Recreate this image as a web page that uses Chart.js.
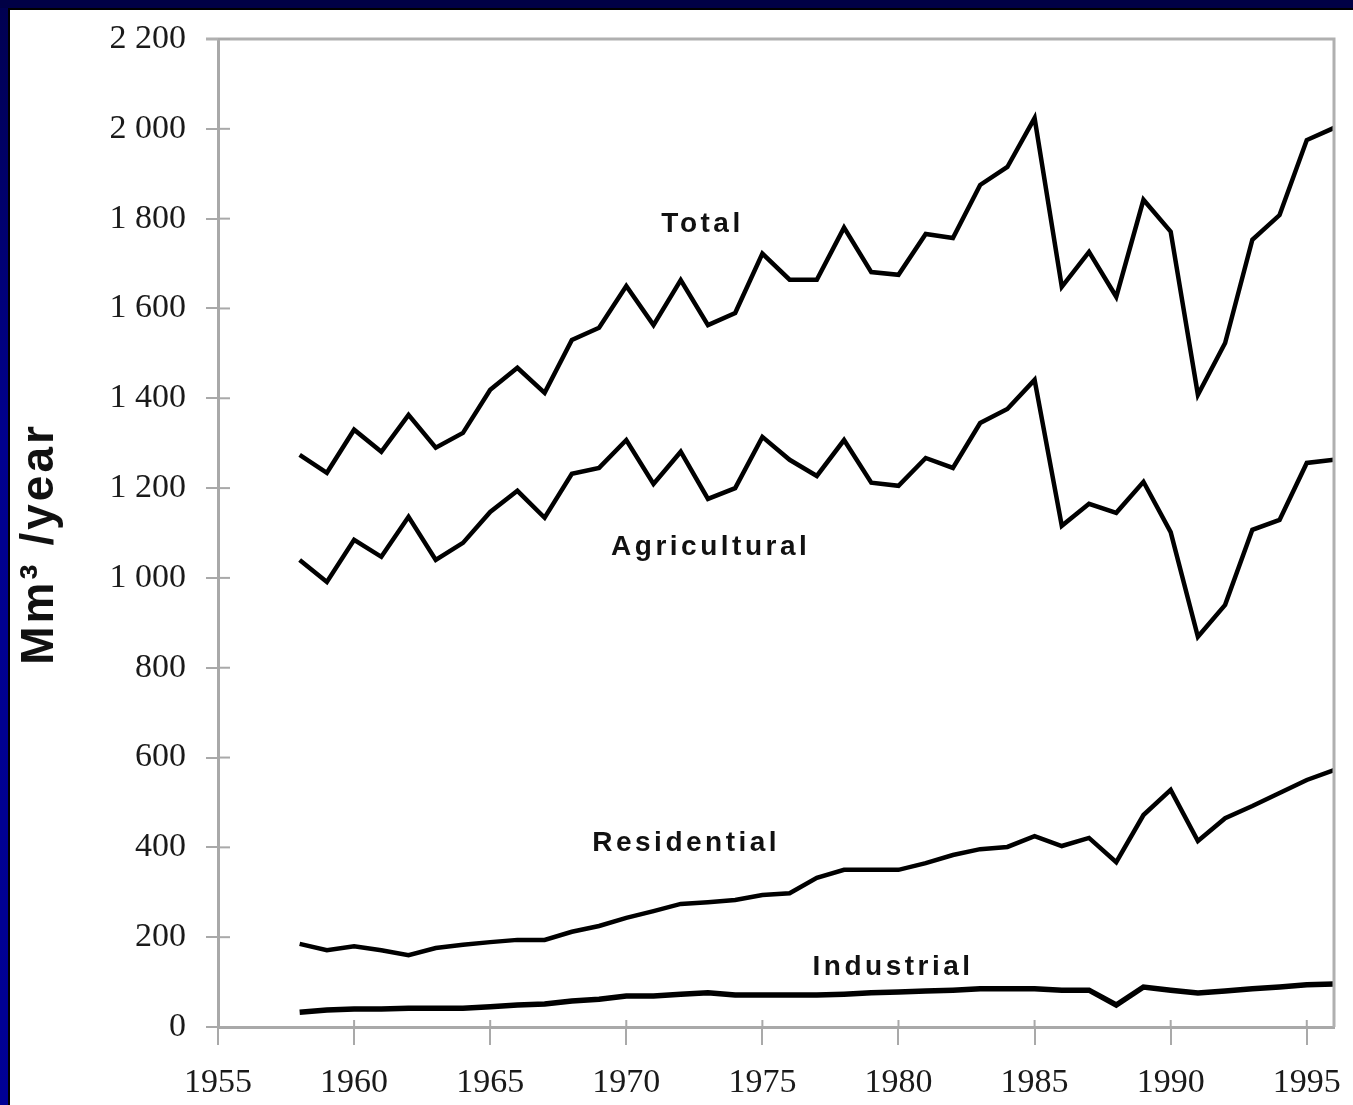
<!DOCTYPE html>
<html lang="en">
  <head>
    <meta charset="UTF-8" />
    <title>Water use, Mm3/year</title>
    <script src="https://cdn.jsdelivr.net/npm/chart.js"></script>
    <style>
      html, body { margin: 0; padding: 0; background: #000045; }
      #frame {
        position: absolute; left: 0; top: 0; width: 1353px; height: 1105px;
        background: linear-gradient(to bottom, #000050, #00008e 40%, #000095);
      }
      #topstrip { position: absolute; left: 0; top: 0; width: 1353px; height: 8px; background: #000045; }
      #paper {
        position: absolute; left: 8px; top: 8px; width: 1345px; height: 1097px;
        background: #fff; border-left: 2px solid #000; border-top: 2px solid #000;
        box-sizing: border-box;
      }
      #grafico { position: absolute; left: 10px; top: 10px; }
    </style>
  </head>
  <body>
    <div id="frame"></div>
    <div id="topstrip"></div>
    <div id="paper"></div>
    <canvas id="grafico" width="1343" height="1095"></canvas>
    <script>
      // anos e valores (Mm3/ano)
      const anos = [1958, 1959, 1960, 1961, 1962, 1963, 1964, 1965, 1966, 1967,
        1968, 1969, 1970, 1971, 1972, 1973, 1974, 1975, 1976, 1977,
        1978, 1979, 1980, 1981, 1982, 1983, 1984, 1985, 1986, 1987,
        1988, 1989, 1990, 1991, 1992, 1993, 1994, 1995, 1996]

      const total = [1274, 1234, 1330, 1281, 1363, 1290, 1323, 1419, 1468, 1412,
        1530, 1557, 1650, 1563, 1663, 1563, 1590, 1722, 1664, 1664,
        1780, 1681, 1675, 1766, 1757, 1875, 1915, 2024, 1648, 1726,
        1626, 1842, 1771, 1408, 1523, 1753, 1808, 1975, 2002]

      const agricola = [1040, 991, 1085, 1047, 1136, 1040, 1078, 1147, 1194, 1134,
        1232, 1245, 1307, 1209, 1281, 1176, 1200, 1314, 1263, 1227,
        1307, 1212, 1205, 1267, 1245, 1345, 1376, 1441, 1116, 1165,
        1145, 1214, 1102, 869, 940, 1107, 1129, 1256, 1263]

      const residencial = [185, 171, 180, 171, 160, 176, 183, 189, 194, 194,
        212, 225, 243, 258, 274, 278, 283, 294, 298, 332,
        350, 350, 350, 365, 383, 396, 401, 425, 403, 421,
        367, 472, 528, 414, 465, 492, 521, 550, 572]

      const industrial = [33, 38, 40, 40, 42, 42, 42, 45, 49, 51,
        58, 62, 69, 69, 73, 76, 71, 71, 71, 71,
        73, 76, 78, 80, 82, 85, 85, 85, 82, 82,
        49, 89, 82, 76, 80, 85, 89, 94, 96]

      const nomes = ["Total", "Agricultural", "Residential", "Industrial"]
      // onde fica cada rotulo (ano, valor)
      const rotuloAno = [1972.8, 1973.1, 1972.2, 1979.8]
      const rotuloValor = [1788, 1069, 410, 134]

      const cinza = "#a9a9a9"

      const pontos = (vals) => anos.map((a, i) => ({ x: a, y: vals[i] }))

      const formatar = (v) => {
        if (v < 1000) return String(v)
        const mil = Math.floor(v / 1000)
        const resto = String(v % 1000).padStart(3, "0")
        return mil + " " + resto
      }

      const extras = {
        id: "extras",
        afterDraw(chart) {
          const c = chart.ctx
          const area = chart.chartArea
          const sx = chart.scales.x
          const sy = chart.scales.y
          c.save()
          // moldura de cima e da direita
          c.strokeStyle = "#b0b0b0"
          c.lineWidth = 3
          c.beginPath()
          c.moveTo(area.left - 12, area.top)
          c.lineTo(area.right, area.top)
          c.lineTo(area.right, area.bottom)
          c.stroke()
          // parte interna dos ticks
          c.strokeStyle = cinza
          c.lineWidth = 2
          sy.ticks.forEach((t) => {
            const y = sy.getPixelForValue(t.value)
            c.beginPath()
            c.moveTo(area.left, y)
            c.lineTo(area.left + 12, y)
            c.stroke()
          })
          sx.ticks.forEach((t) => {
            const x = sx.getPixelForValue(t.value)
            c.beginPath()
            c.moveTo(x, area.bottom)
            c.lineTo(x, area.bottom - 7)
            c.stroke()
          })
          // rotulos das series
          c.fillStyle = "#111"
          c.font = "bold 28px 'Liberation Sans', Arial, sans-serif"
          c.letterSpacing = "3.5px"
          c.textAlign = "center"
          c.textBaseline = "middle"
          nomes.forEach((n, i) => {
            c.fillText(n, sx.getPixelForValue(rotuloAno[i]), sy.getPixelForValue(rotuloValor[i]))
          })
          // titulo do eixo y
          c.translate(30, 534)
          c.rotate(-Math.PI / 2)
          c.font = "bold 46px 'Liberation Sans', Arial, sans-serif"
          c.letterSpacing = "3px"
          c.fillText("Mm\u00b3 /year", 0, 0)
          c.restore()
        },
      }

      const linha = (label, vals, w) => ({
        label: label,
        data: pontos(vals),
        borderColor: "#000",
        borderWidth: w,
        pointRadius: 0,
        tension: 0,
        fill: false,
      })

      const ctx = document.getElementById("grafico")
      let grafico1 = new Chart(ctx, {
        type: "line",
        data: {
          datasets: [
            linha("Total", total, 4.5),
            linha("Agricultural", agricola, 4.5),
            linha("Residential", residencial, 4.5),
            linha("Industrial", industrial, 5.5),
          ],
        },
        options: {
          responsive: false,
          animation: false,
          devicePixelRatio: 1,
          layout: { padding: { left: 0, top: 29, right: 19, bottom: 0 } },
          plugins: { legend: { display: false }, tooltip: { enabled: false } },
          scales: {
            x: {
              type: "linear",
              min: 1955,
              max: 1996,
              afterFit: (s) => {
                s.height = 78
                s.paddingLeft = 0
                s.paddingRight = 0
              },
              border: { color: cinza, width: 3 },
              grid: { drawOnChartArea: false, color: cinza, lineWidth: 2, tickLength: 18 },
              ticks: {
                stepSize: 5,
                includeBounds: false,
                maxRotation: 0,
                padding: 18,
                color: "#1a1a1a",
                font: { family: "'Liberation Serif', 'Times New Roman', serif", size: 34 },
                callback: (v) => String(v),
              },
            },
            y: {
              min: 0,
              max: 2200,
              afterFit: (s) => {
                s.width = 208
                s.paddingTop = 0
                s.paddingBottom = 0
              },
              border: { color: cinza, width: 3 },
              grid: { drawOnChartArea: false, color: cinza, lineWidth: 2, tickLength: 12 },
              ticks: {
                stepSize: 200,
                padding: 20,
                color: "#1a1a1a",
                font: { family: "'Liberation Serif', 'Times New Roman', serif", size: 34 },
                callback: (v) => formatar(v),
              },
            },
          },
        },
        plugins: [extras],
      })
    </script>
  </body>
</html>
